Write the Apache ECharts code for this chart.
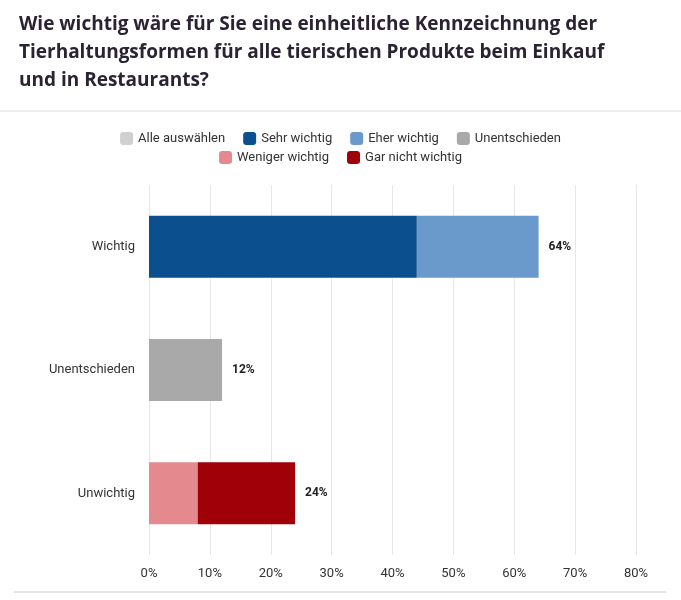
<!DOCTYPE html>
<html><head><meta charset="utf-8">
<script src="https://cdn.jsdelivr.net/npm/echarts@6/dist/echarts.min.js"></script>
<style>body{margin:0;background:#fff}#c{width:681px;height:600px}</style>
</head><body><div id="c"></div>
<script>
const categories = ['Wichtig','Unentschieden','Unwichtig'];
const sehrWichtig = [44, null, null];
const eherWichtig = [20, null, null];
const unentschieden = [null, 12, null];
const wenigerWichtig = [null, null, 8];
const garNichtWichtig = [null, null, 16];
const totals = [64, 12, 24];
const legendRow1 = ['Alle auswählen','Sehr wichtig','Eher wichtig','Unentschieden'];
const legendRow2 = ['Weniger wichtig','Gar nicht wichtig'];

const chart = echarts.init(document.getElementById('c'));
const lbl = (arr) => arr.map((v,i)=> v==null?null:{value:v,label:{show:true,position:'right',distance:10,formatter:totals[i]+'%',color:'#222',fontWeight:'bold',fontSize:12,fontFamily:'Roboto'}});
const legendBase = {left:'center',itemWidth:13,itemHeight:13,itemGap:18,padding:0,icon:'roundRect',textStyle:{fontSize:13,color:'#333',fontFamily:'Roboto'}};
chart.setOption({
  animation:false,
  title:{text:'Wie wichtig wäre für Sie eine einheitliche Kennzeichnung der\nTierhaltungsformen für alle tierischen Produkte beim Einkauf\nund in Restaurants?',left:14,top:6,textStyle:{fontSize:19,fontWeight:'bold',color:'#2b2333',lineHeight:28,fontFamily:'Open Sans'}},
  graphic:[
    {type:'line',shape:{x1:0,y1:111,x2:681,y2:111},style:{stroke:'#ddd',lineWidth:1}},
    {type:'line',shape:{x1:14,y1:592,x2:666,y2:592},style:{stroke:'#ccc',lineWidth:1}}
  ],
  legend:[Object.assign({top:132,data:legendRow1},legendBase),Object.assign({top:151,data:legendRow2},legendBase)],
  grid:{left:149,right:45,top:185,bottom:45},
  xAxis:{type:'value',min:0,max:80,interval:10,axisLabel:{formatter:'{value}%',color:'#333',fontSize:13,fontFamily:'Roboto',margin:12},
    splitLine:{lineStyle:{color:'#e6e6e6'}},axisLine:{show:false},axisTick:{show:false}},
  yAxis:{type:'category',data:categories,inverse:true,axisLine:{show:false},axisTick:{show:false},
    axisLabel:{color:'#333',fontSize:13,fontFamily:'Roboto',margin:14}},
  series:[
    {name:'Alle auswählen',type:'bar',stack:'a',data:[],itemStyle:{color:'#d0d0d0'}},
    {name:'Sehr wichtig',type:'bar',stack:'a',barWidth:62,data:sehrWichtig,itemStyle:{color:'#0b4f8f'}},
    {name:'Eher wichtig',type:'bar',stack:'a',data:lbl(eherWichtig),itemStyle:{color:'#6a9acb'}},
    {name:'Unentschieden',type:'bar',stack:'a',data:lbl(unentschieden),itemStyle:{color:'#a9a9a9'}},
    {name:'Weniger wichtig',type:'bar',stack:'a',data:wenigerWichtig,itemStyle:{color:'#e48a8f'}},
    {name:'Gar nicht wichtig',type:'bar',stack:'a',data:lbl(garNichtWichtig),itemStyle:{color:'#a00008'}}
  ]
});
</script></body></html>
